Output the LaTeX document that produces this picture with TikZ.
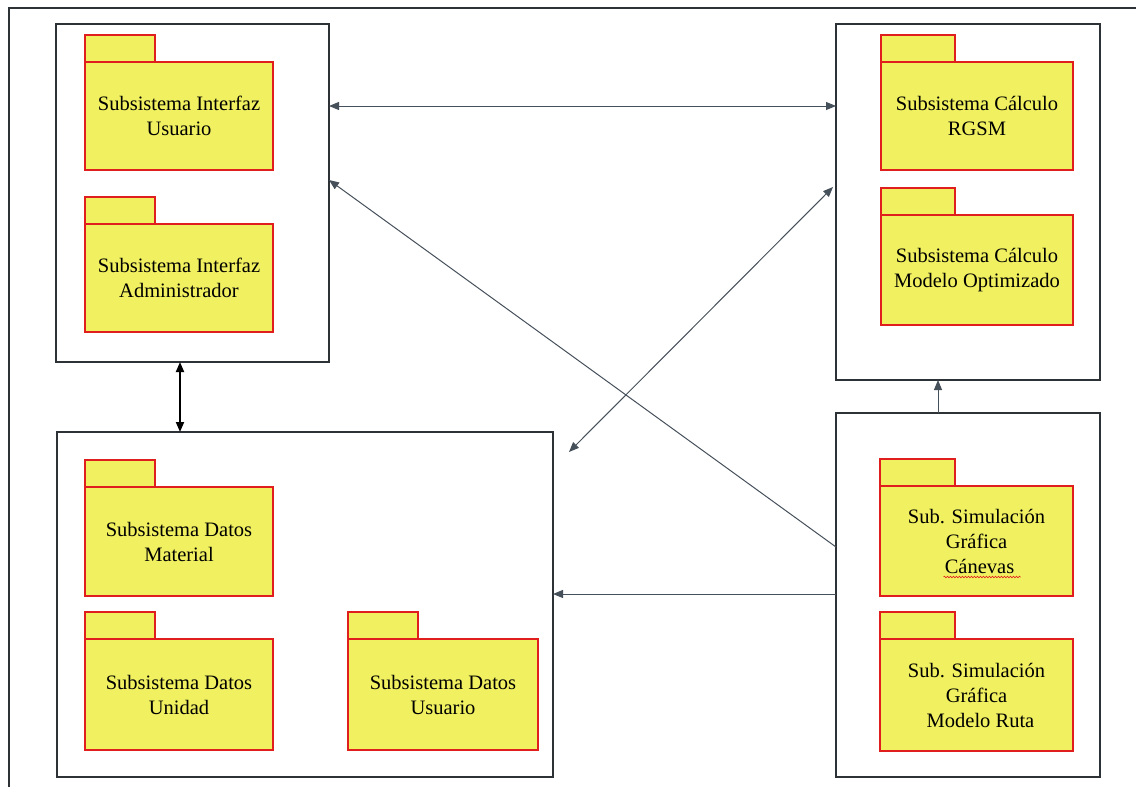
\documentclass[tikz,border=0pt]{standalone}
\usepackage{fontspec}
\setmainfont{Liberation Serif}
\usetikzlibrary{arrows.meta,calc,decorations.pathmorphing}
\definecolor{pkgfill}{RGB}{240,240,96}
\definecolor{pkgred}{RGB}{225,30,30}
\definecolor{linegray}{RGB}{70,80,90}
\definecolor{boxgray}{RGB}{45,50,55}
\tikzset{
  sysbox/.style={draw=boxgray,line width=1.6pt,fill=white,inner sep=0pt,outer sep=0pt},
  pkgtab/.style={draw=pkgred,fill=pkgfill,line width=1.3pt},
  pkgbody/.style={draw=pkgred,fill=pkgfill,line width=1.3pt,inner sep=0pt,outer sep=0pt,
     align=center,font=\fontsize{20.5}{25}\selectfont},
  conn/.style={draw=linegray,line width=1pt},
  tip/.style={-{Triangle[length=10pt,width=8pt]}},
  bitip/.style={{Triangle[length=10pt,width=8pt]}-{Triangle[length=10pt,width=8pt]}},
}
\newcommand\umlpkg[7]{%
  \draw[pkgtab] (#2,#3) rectangle (#2+#6,#3+27);
  \node[pkgbody,anchor=north west,minimum width={#4pt-#2pt},minimum height={#5pt-#3pt-27pt}] (#1) at (#2,#3+27) {#7};
}
\begin{document}
\begin{tikzpicture}[x=1pt,y=-1pt]
\useasboundingbox (0,0) rectangle (1136,787);
% outer frame
\draw[boxgray,line width=1.2pt] (1136,8) -- (9,8) -- (9,787);
% system boxes
\node[sysbox,minimum width=273pt,minimum height=338pt] (tl) at (192.5,193) {};
\node[sysbox,minimum width=264pt,minimum height=356pt] (tr) at (968,202) {};
\node[sysbox,minimum width=496pt,minimum height=345pt] (bl) at (305,604.5) {};
\node[sysbox,minimum width=264pt,minimum height=364pt] (br) at (968,595) {};
% packages
\umlpkg{p1}{85}{35}{273}{170}{70}{Subsistema Interfaz\\Usuario}
\umlpkg{p2}{85}{197}{273}{332}{70}{Subsistema Interfaz\\Administrador}
\umlpkg{p3}{881}{35}{1073}{170}{74}{Subsistema Cálculo\\RGSM}
\umlpkg{p4}{881}{188}{1073}{325}{74}{Subsistema Cálculo\\Modelo Optimizado}
\umlpkg{p5}{85}{460}{273}{596}{70}{Subsistema Datos\\Material}
\umlpkg{p6}{85}{612}{273}{750}{70}{Subsistema Datos\\Unidad}
\umlpkg{p7}{348}{612}{538}{750}{70}{Subsistema Datos\\Usuario}
\umlpkg{p8}{880}{459}{1073}{596}{75}{Sub. Simulación\\Gráfica\\\hspace*{6pt}Cánevas}
\umlpkg{p9}{880}{612}{1073}{751}{75}{Sub. Simulación\\Gráfica\\\hspace*{8pt}Modelo Ruta}
% spell-check squiggle
\draw[pkgred,line width=0.6pt,decorate,decoration={snake,amplitude=0.8pt,segment length=3pt}] ($(p8.south)+(-33,-19)$) -- ($(p8.south)+(44,-19)$);
% helper coordinates
\coordinate (yA) at (0,106);
\coordinate (yB) at (0,180);
\coordinate (yC) at (0,547);
\coordinate (yD) at (0,187);
\coordinate (yE) at (0,594);
\coordinate (xA) at (180,0);
\coordinate (xB) at (938,0);
% connectors
\draw[conn,bitip] (tl.east |- yA) -- (tr.west |- yA);
\draw[conn,tip] (br.west |- yC) -- (tl.east |- yB);
\draw[conn,bitip] ($(bl.north east)+(16,20)$) -- ($(tr.west |- yD)+(-3,0)$);
\draw[draw=black,line width=1.8pt,bitip] (tl.south -| xA) -- (bl.north -| xA);
\draw[conn,tip] (br.west |- yE) -- (bl.east |- yE);
\draw[conn,tip] (br.north -| xB) -- (tr.south -| xB);
\end{tikzpicture}
\end{document}
